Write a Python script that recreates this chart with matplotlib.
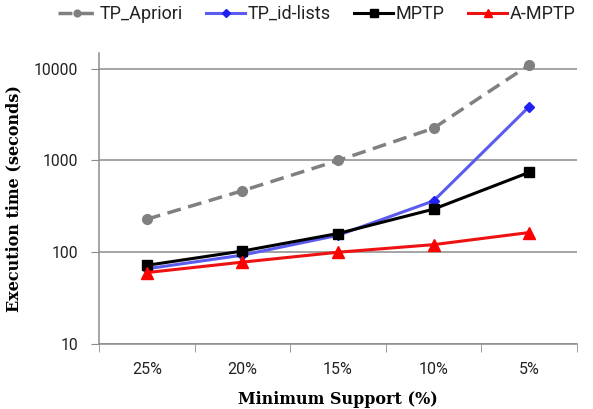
import matplotlib
matplotlib.use("Agg")
import matplotlib.pyplot as plt
import numpy as np

categories = ["25%", "20%", "15%", "10%", "5%"]
tp_apriori = [229, 468, 1000, 2250, 11000]
tp_id_lists = [66, 93, 153, 363, 3870]
mptp = [72, 103, 160, 295, 743]
a_mptp = [60, 78, 100, 121, 164]

fig = plt.figure(figsize=(5.93, 4.09), dpi=100)
ax = fig.add_axes([0.167, 0.159, 0.806, 0.711])

x = np.arange(len(categories))
ax.plot(x, tp_apriori, color="#808080", lw=2.5, ls=(0, (4, 2.2)), marker="o", ms=7,
        label="TP_Apriori", zorder=3)
ax.plot(x, tp_id_lists, color="#5B5BF0", lw=2.2, marker="D", ms=5.5, mfc="#2020F0",
        mec="#2020F0", label="TP_id-lists", zorder=4)
ax.plot(x, mptp, color="black", lw=2.2, marker="s", ms=7.5, label="MPTP", zorder=5)
ax.plot(x, a_mptp, color="#EE1111", lw=2.2, marker="^", ms=8, mfc="red", mec="red",
        label="A-MPTP", zorder=6)

ax.set_yscale("log")
ax.set_ylim(10, 10 ** 4.17)
ax.set_xlim(-0.5, len(categories) - 0.5)
ax.set_yticks([10, 100, 1000, 10000])
ax.set_yticklabels(["10", "100", "1000", "10000"])
ax.yaxis.set_minor_locator(matplotlib.ticker.NullLocator())
ax.set_xticks(x)
ax.set_xticklabels(categories)
ax.set_xticks(np.arange(-0.5, len(categories)), minor=True)

ax.grid(axis="y", which="major", color="#8C8C8C", lw=1.1)
ax.set_axisbelow(True)
for s in ["top", "right"]:
    ax.spines[s].set_visible(False)
for s in ["left", "bottom"]:
    ax.spines[s].set_color("#8C8C8C")
    ax.spines[s].set_linewidth(1.1)

ax.tick_params(axis="y", which="major", length=6, color="#8C8C8C", labelsize=11.3, pad=9)
ax.tick_params(axis="x", which="major", length=0, labelsize=11.5, pad=13)
ax.tick_params(axis="x", which="minor", length=6, color="#8C8C8C")
for lab in ax.get_xticklabels() + ax.get_yticklabels():
    lab.set_fontfamily("Roboto")
    lab.set_color("#222222")

ax.set_xlabel("Minimum Support (%)", family="DejaVu Serif", fontweight="bold", fontsize=11.5,
              labelpad=10)
ax.set_ylabel("Execution time (seconds)", family="DejaVu Serif", fontweight="bold", fontsize=11.5,
              labelpad=8)

leg = fig.legend(loc="center", bbox_to_anchor=(0.534, 1 - 14 / 409), ncol=4,
                 frameon=False, prop={"family": "Roboto", "size": 13}, handlelength=2.15,
                 handletextpad=0.15, columnspacing=1.3, borderpad=0, borderaxespad=0,
                 markerscale=0.7)
for t in leg.get_texts():
    t.set_color("#222222")

fig.savefig("out.png", dpi=100)
